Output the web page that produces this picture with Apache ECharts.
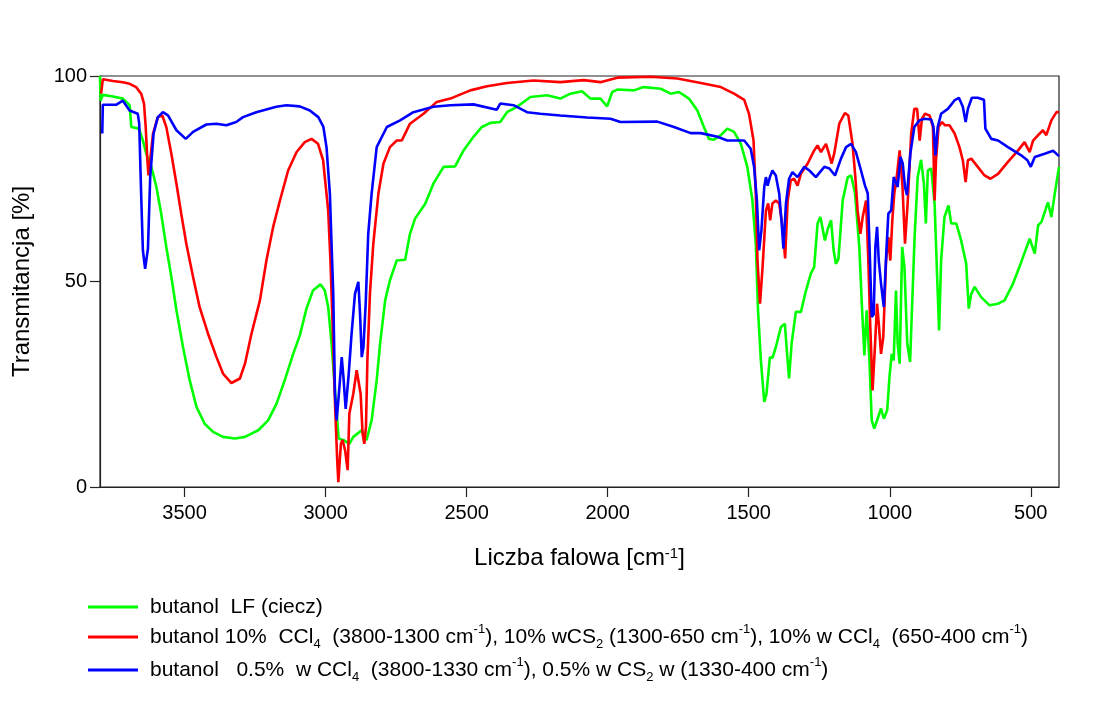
<!DOCTYPE html>
<html>
<head>
<meta charset="utf-8">
<script src="https://cdn.jsdelivr.net/npm/echarts@6/dist/echarts.min.js"></script>
<style>
html,body{margin:0;padding:0;background:#fff;}
#chart{width:1100px;height:711px;}
</style>
</head>
<body>
<div id="chart"></div>
<script>
// ---- data (wavenumber cm-1, transmittance %) ----
const butanolLF = [
[3800,100],[3798,94],[3790,95.4],[3754,95],[3719,94.5],[3695,92.9],[3689,87.6],[3683,87.2],[3662,87.2],[3648,84.3],[3636,81.1],[3618,77.9],[3600,73],[3583,66.5],[3565,58.4],[3547,51.1],[3529,43],[3506,34.1],[3482,26],[3458,19.5],[3429,15.4],[3399,13.4],[3364,12.2],[3322,11.8],[3286,12.2],[3239,13.8],[3204,16.2],[3174,20.3],[3145,26],[3115,32.4],[3091,37],[3068,43.4],[3045,47.8],[3018,49.3],[3003,47.8],[2991,43.8],[2979,34.9],[2966,22.7],[2954,11.8],[2936,11.4],[2916,10.5],[2902,12.2],[2872,13.8],[2855,11.4],[2837,16.2],[2819,26],[2807,34.9],[2789,45.4],[2772,50.3],[2748,55.1],[2718,55.3],[2701,61.6],[2683,65.3],[2647,68.9],[2618,73.8],[2582,77.9],[2541,78],[2511,81.9],[2476,85.2],[2446,87.6],[2416,88.6],[2381,88.8],[2357,91.2],[2322,92.5],[2274,94.9],[2215,95.3],[2168,94.5],[2132,95.7],[2091,96.3],[2061,94.5],[2026,94.5],[2002,92.6],[1984,96.1],[1966,96.7],[1907,96.5],[1872,97.3],[1812,96.9],[1777,95.7],[1747,96.1],[1712,94.5],[1682,91.6],[1659,87.6],[1641,84.7],[1623,84.5],[1599,85.6],[1576,87.2],[1552,86.4],[1528,83.5],[1505,77.9],[1487,69.7],[1475,59.2],[1467,43],[1457,30.8],[1445,20.7],[1437,22.7],[1425,31.6],[1416,31.4],[1404,34],[1386,38.9],[1372,39.7],[1365,33.3],[1357,26.4],[1348,34.9],[1333,42.6],[1315,42.6],[1297,47.8],[1280,51.9],[1268,53.5],[1256,64.1],[1246,65.7],[1230,60],[1220,62.7],[1208,64.9],[1199,57.6],[1191,54.3],[1182,55.5],[1167,69.7],[1149,75.4],[1137,75.8],[1123,71.4],[1108,58.4],[1098,43],[1090,32],[1082,43],[1072,30.8],[1064,16.2],[1055,14.2],[1043,16.6],[1031,19.1],[1021,16.6],[1009,18.7],[1001,26.8],[993,32.4],[986,30.8],[978,47.8],[972,34.9],[965,30],[956,58.4],[948,53.5],[938,34.9],[928,30.4],[912,60.8],[901,75.4],[889,79.6],[879,73.8],[872,64.1],[865,77],[853,77.5],[841,68.9],[832,51.1],[825,38.1],[818,55.1],[806,65.7],[792,68.5],[782,64.1],[764,64.1],[747,60],[729,54.3],[720,43.4],[711,47],[699,48.7],[676,46.2],[646,44.2],[616,44.6],[593,45.4],[563,49.5],[534,54.7],[504,60.4],[486,56.8],[474,63.7],[462,64.5],[439,69.3],[427,65.7],[415,71.4],[400,77.9]
];
const butanol10 = [
[3796,95.7],[3790,99.2],[3754,98.8],[3719,98.5],[3695,98.1],[3672,97.3],[3654,95.7],[3644,93.3],[3638,87.6],[3632,79.5],[3628,75.8],[3622,79.5],[3612,86],[3595,90],[3579,90.4],[3565,87.6],[3547,81.1],[3529,73.8],[3512,66.5],[3494,59.2],[3470,51.1],[3447,43.8],[3417,37.3],[3387,31.6],[3364,27.6],[3334,25.3],[3304,26.4],[3286,30],[3263,37.3],[3233,45.4],[3210,55.1],[3186,63.3],[3162,69.7],[3133,77],[3103,81.5],[3074,83.9],[3050,84.7],[3027,83.5],[3009,79.5],[2991,67.3],[2983,55.1],[2975,38.9],[2966,18.7],[2959,6.5],[2955,1.2],[2946,10.5],[2940,11.4],[2931,8.9],[2922,4.1],[2916,17.8],[2902,22.7],[2890,28.4],[2883,28.4],[2876,22.7],[2869,13],[2863,10.5],[2857,14.6],[2852,30.8],[2843,47],[2831,59.2],[2813,71.4],[2795,78.7],[2772,82.7],[2748,84.3],[2730,84.3],[2701,88.4],[2653,90.8],[2606,93.7],[2558,94.5],[2487,96.5],[2428,97.5],[2357,98.3],[2263,98.9],[2168,98.5],[2085,99],[2026,98.5],[1966,99.6],[1848,99.8],[1753,99.4],[1670,98.3],[1599,97.3],[1552,95.7],[1516,94.2],[1499,90.8],[1483,84.3],[1475,71.4],[1469,55.1],[1460,44.6],[1451,53.5],[1439,67.3],[1431,69],[1424,64.9],[1416,69],[1404,69.7],[1392,69],[1380,63.3],[1371,55.6],[1362,69.7],[1351,74.6],[1339,75],[1327,73.3],[1315,76.2],[1291,78.7],[1268,81.9],[1256,83.1],[1244,81.5],[1226,83.5],[1214,80.7],[1206,78.7],[1197,81.1],[1179,88.4],[1159,91],[1147,90.4],[1132,83.5],[1122,75.4],[1114,67.3],[1104,61.6],[1096,65.7],[1084,69.7],[1076,55.1],[1069,38.9],[1061,23.5],[1052,34.9],[1045,44.6],[1038,38.9],[1031,32.4],[1023,36.5],[1013,55.1],[1005,60.8],[998,55.1],[991,64.9],[984,71.4],[974,76.2],[965,81.9],[955,73.3],[946,59.2],[936,69.7],[924,86],[913,92],[903,92],[894,84.3],[886,89.6],[875,90.8],[859,90.4],[847,87.6],[841,69.7],[836,79.5],[827,87.6],[815,88.8],[804,88],[788,88],[770,86],[753,82.7],[741,79.5],[731,74.2],[723,79.5],[711,79.9],[688,77.9],[664,75.8],[643,75],[616,76.2],[581,79.1],[545,81.9],[522,83.9],[504,81.5],[492,84.3],[474,85.6],[457,86.8],[445,85.6],[427,89.2],[409,91.2],[400,91.2]
];
const butanol05 = [
[3792,86],[3790,93],[3743,93],[3719,94],[3695,91.6],[3666,90.8],[3661,88.4],[3654,71],[3648,57.6],[3640,53.1],[3630,58],[3622,75.4],[3610,86],[3595,90],[3577,91.2],[3559,90.4],[3529,86.8],[3496,84.7],[3470,86.4],[3423,88.2],[3388,88.4],[3352,88],[3317,88.8],[3293,90],[3246,91.2],[3175,92.5],[3139,92.9],[3092,92.6],[3056,91.6],[3026,90],[3008,87.6],[2997,82.7],[2985,71.4],[2979,59],[2973,47],[2967,22.7],[2961,16.2],[2953,22.7],[2943,31.6],[2937,26.8],[2929,19],[2919,26.8],[2908,37.3],[2896,47],[2884,49.9],[2878,42],[2872,31.6],[2866,34],[2858,44.6],[2849,61.6],[2837,71.4],[2819,82.7],[2783,87.6],[2736,89.2],[2689,91.2],[2618,92.5],[2558,92.9],[2476,93.1],[2393,91.8],[2381,93.3],[2334,92.9],[2286,91.2],[2239,90.8],[2168,90.4],[2073,89.9],[1990,89.6],[1955,88.8],[1824,88.9],[1765,87.6],[1706,86.1],[1670,86.1],[1611,85.2],[1576,84.3],[1516,84.3],[1493,82.3],[1481,77.9],[1471,69.7],[1463,57.6],[1455,62.5],[1445,73],[1439,75.4],[1433,73.3],[1425,75.4],[1416,77],[1404,75.8],[1392,71.4],[1384,64.9],[1377,58],[1368,69],[1357,75],[1345,76.6],[1327,75.4],[1303,77.9],[1285,77],[1262,75.4],[1232,77.9],[1214,77.5],[1194,75.8],[1173,79.9],[1155,82.7],[1137,83.5],[1120,81.5],[1102,77],[1088,73.4],[1078,71.4],[1072,59.2],[1064,41.4],[1057,42],[1051,58.4],[1045,63.3],[1039,55.1],[1031,49.5],[1021,43.8],[1013,56],[1005,66.5],[995,67.3],[986,75.4],[979,75.8],[972,73],[962,80.3],[954,78.7],[946,73],[939,71],[927,81.1],[913,87.6],[895,89.2],[877,89.6],[853,89.4],[845,87.6],[838,80.7],[830,87.6],[818,90.8],[794,92],[770,94.1],[755,94.7],[741,92.5],[731,88.8],[723,92],[709,94.7],[688,94.7],[666,94.2],[661,87.2],[640,84.7],[616,84.3],[581,82.7],[534,80.7],[512,79.5],[500,77.9],[486,80.3],[451,81.1],[421,81.8],[400,80.5]
];
const xTicks = [500, 1000, 1500, 2000, 2500, 3000, 3500];
const yTicks = [0, 50, 100];
const seriesNames = [
  'butanol  LF (ciecz)',
  'butanol 10%  CCl{sub|4}  (3800-1300 cm{sup|-1}), 10% wCS{sub|2} (1300-650 cm{sup|-1}), 10% w CCl{sub|4}  (650-400 cm{sup|-1})',
  'butanol   0.5%  w CCl{sub|4}  (3800-1330 cm{sup|-1}), 0.5% w CS{sub|2} w (1330-400 cm{sup|-1})'
];
const xTitle = 'Liczba falowa [cm{sup|-1}]';
const yTitle = 'Transmitancja [%]';
const colors = ['#00ff00', '#ff0000', '#0000ff'];

const FONT = 'Liberation Sans, Arial, sans-serif';
const richLegend = {
  sub: {fontSize: 13, lineHeight: 13, verticalAlign: 'bottom', fontFamily: FONT, color: '#000'},
  sup: {fontSize: 13, lineHeight: 13, verticalAlign: 'top', fontFamily: FONT, color: '#000'}
};
function legendBlock(name, top) {
  return {
    data: [name],
    orient: 'vertical',
    left: 83,
    top: top,
    itemWidth: 50,
    itemHeight: 3,
    itemGap: 0,
    icon: 'rect',
    selectedMode: false,
    textStyle: {fontSize: 21, fontFamily: FONT, color: '#000', lineHeight: 28, rich: richLegend, padding: [0,0,0,7]}
  };
}
const datasets = [butanolLF, butanol10, butanol05];
const chart = echarts.init(document.getElementById('chart'), null, {renderer: 'canvas'});
chart.setOption({
  animation: false,
  backgroundColor: '#fff',
  color: colors,
  grid: {left: 100, right: 41, top: 76, bottom: 224, show: true, borderColor: '#222', borderWidth: 1.2, backgroundColor: 'transparent'},
  legend: [legendBlock(seriesNames[0], 588), legendBlock(seriesNames[1], 618), legendBlock(seriesNames[2], 651)],
  xAxis: {
    type: 'value', min: 400, max: 3800, inverse: true,
    name: xTitle, nameLocation: 'middle', nameGap: 59,
    nameTextStyle: {fontSize: 24, fontFamily: FONT, color: '#000',
      rich: {sup: {fontSize: 15, verticalAlign: 'top', lineHeight: 15, fontFamily: FONT, color: '#000'}}},
    axisLine: {show: true, lineStyle: {color: '#222', width: 1.2}},
    axisTick: {show: true, length: 10, lineStyle: {color: '#222', width: 1.2}, customValues: xTicks},
    axisLabel: {fontSize: 20, fontFamily: FONT, color: '#000', margin: 16, customValues: xTicks,
      formatter: v => String(v)},
    splitLine: {show: false}
  },
  yAxis: {
    type: 'value', min: 0, max: 100, interval: 50,
    name: yTitle, nameLocation: 'middle', nameGap: 66, nameRotate: 90,
    nameTextStyle: {fontSize: 24, fontFamily: FONT, color: '#000'},
    axisLine: {show: true, lineStyle: {color: '#222', width: 1.2}},
    axisTick: {show: true, length: 10, lineStyle: {color: '#222', width: 1.2}, customValues: yTicks},
    axisLabel: {fontSize: 20, fontFamily: FONT, color: '#000', margin: 13, customValues: yTicks,
      formatter: v => String(v)},
    splitLine: {show: false}
  },
  series: datasets.map((d, i) => ({
    name: seriesNames[i],
    type: 'line',
    data: d,
    showSymbol: false,
    symbol: 'none',
    lineStyle: {width: 2.6, color: colors[i]},
    itemStyle: {color: colors[i]},
    z: 2 + i
  }))
});
</script>
</body>
</html>
